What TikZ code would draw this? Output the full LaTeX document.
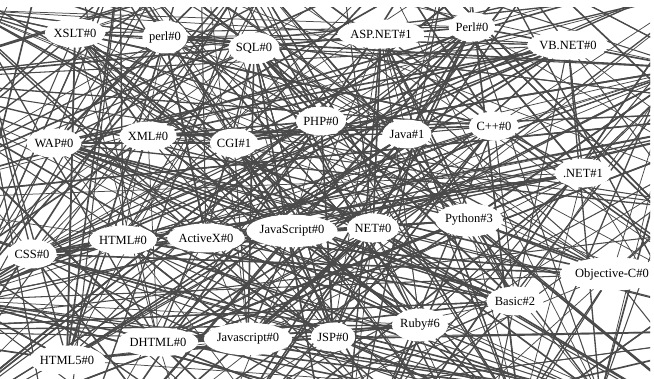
\documentclass[tikz,border=0pt]{standalone}
\usepackage{fontspec}
\setmainfont{Liberation Serif}
\usetikzlibrary{shapes.geometric,backgrounds}
\definecolor{edgegray}{HTML}{4A4A4A}
\begin{document}
\begin{tikzpicture}[x=1pt,y=-1pt,
  lang/.style={ellipse,fill=white,inner xsep=0pt,inner ysep=6pt,
    font=\fontsize{12.5}{14}\selectfont},
  edge/.style={draw=edgegray,line width=#1},
  edge/.default=1.2pt]
\useasboundingbox (0,0) rectangle (654,379);
% language nodes
\node[lang,alias=v1]  (xslt)   at (75,33)   {XSLT\#0};
\node[lang,alias=v2]  (perl)   at (165,37)  {perl\#0};
\node[lang,alias=v3]  (sql)    at (254,48)  {SQL\#0};
\node[lang,alias=v4]  (aspnet) at (381,34)  {ASP.NET\#1};
\node[lang,alias=v5]  (Perl)   at (472,27)  {Perl\#0};
\node[lang,alias=v6]  (vbnet)  at (568,45)  {VB.NET\#0};
\node[lang,alias=v7]  (wap)    at (54,143)  {WAP\#0};
\node[lang,alias=v8]  (xml)    at (148,136) {XML\#0};
\node[lang,alias=v9]  (cgi)    at (234,143) {CGI\#1};
\node[lang,alias=v10] (php)    at (321,121) {PHP\#0};
\node[lang,alias=v11] (java)   at (407,134) {Java\#1};
\node[lang,alias=v12] (cpp)    at (494,126) {C++\#0};
\node[lang,alias=v13] (dotnet) at (583,173) {.NET\#1};
\node[lang,alias=v14] (css)    at (32,254)  {CSS\#0};
\node[lang,alias=v15] (html)   at (123,240) {HTML\#0};
\node[lang,alias=v16] (activex) at (206,238) {ActiveX\#0};
\node[lang,alias=v17] (JS)     at (292,231) {JavaScript\#0};
\node[lang,alias=v18] (net)    at (373,228) {NET\#0};
\node[lang,alias=v19] (python) at (469,220) {Python\#3};
\node[lang,alias=v20] (objc)   at (612,274) {Objective-C\#0};
\node[lang,alias=v21] (basic)  at (515,301) {Basic\#2};
\node[lang,alias=v22] (ruby)   at (420,325) {Ruby\#6};
\node[lang,alias=v23] (jsp)    at (333,337) {JSP\#0};
\node[lang,alias=v24] (js)     at (248,339) {Javascript\#0};
\node[lang,alias=v25] (dhtml)  at (158,342) {DHTML\#0};
\node[lang,alias=v26] (html5)  at (67,360)  {HTML5\#0};
% partial nodes at the border
\node[ellipse,fill=white,minimum width=70pt,minimum height=34pt,alias=v27] (edgeA) at (690,68) {};
\node[ellipse,fill=white,minimum width=80pt,minimum height=36pt,alias=v28] (edgeB) at (600,397) {};
% points outside the frame
\coordinate[alias=v29] (o1) at (-120,-60);
\coordinate[alias=v30] (o2) at (60,-110);
\coordinate[alias=v31] (o3) at (200,-90);
\coordinate[alias=v32] (o4) at (330,-130);
\coordinate[alias=v33] (o5) at (460,-100);
\coordinate[alias=v34] (o6) at (600,-120);
\coordinate[alias=v35] (o7) at (760,-50);
\coordinate[alias=v36] (o8) at (790,110);
\coordinate[alias=v37] (o9) at (800,220);
\coordinate[alias=v38] (o10) at (780,330);
\coordinate[alias=v39] (o11) at (760,460);
\coordinate[alias=v40] (o12) at (480,470);
\coordinate[alias=v41] (o13) at (340,520);
\coordinate[alias=v42] (o14) at (200,480);
\coordinate[alias=v43] (o15) at (60,500);
\coordinate[alias=v44] (o16) at (-100,450);
\coordinate[alias=v45] (o17) at (-140,330);
\coordinate[alias=v46] (o18) at (-120,200);
\coordinate[alias=v47] (o19) at (-110,80);
\coordinate[alias=v48] (o20) at (380,410);
\coordinate[alias=v49] (o21) at (-30,10);
\coordinate[alias=v50] (o22) at (250,-30);
\coordinate[alias=v51] (o23) at (120,-40);
\coordinate[alias=v52] (o24) at (520,420);
\coordinate[alias=v53] (o25) at (700,-10);
\coordinate[alias=v54] (o26) at (-40,300);
% connectors
\begin{scope}[on background layer]
\clip (0,8) rectangle (650,379);
\pgfmathsetseed{31}
\foreach \i in {1,...,28}{
  \foreach \k in {1,...,15}{
    \pgfmathrandominteger{\j}{1}{54}
    \pgfmathrandominteger{\w}{0}{3}
    \pgfmathsetmacro{\lw}{0.75+0.3*\w}
    \ifnum\j=\i\else
      \draw[edge=\lw pt] (v\i) -- (v\j);
    \fi
  }
}
\foreach \k in {1,...,150}{
  \pgfmathrandominteger{\i}{29}{54}
  \pgfmathrandominteger{\j}{29}{54}
  \pgfmathrandominteger{\w}{0}{3}
  \pgfmathsetmacro{\lw}{0.75+0.3*\w}
  \ifnum\j=\i\else
    \draw[edge=\lw pt] (v\i) -- (v\j);
  \fi
}
\end{scope}
\end{tikzpicture}
\end{document}
